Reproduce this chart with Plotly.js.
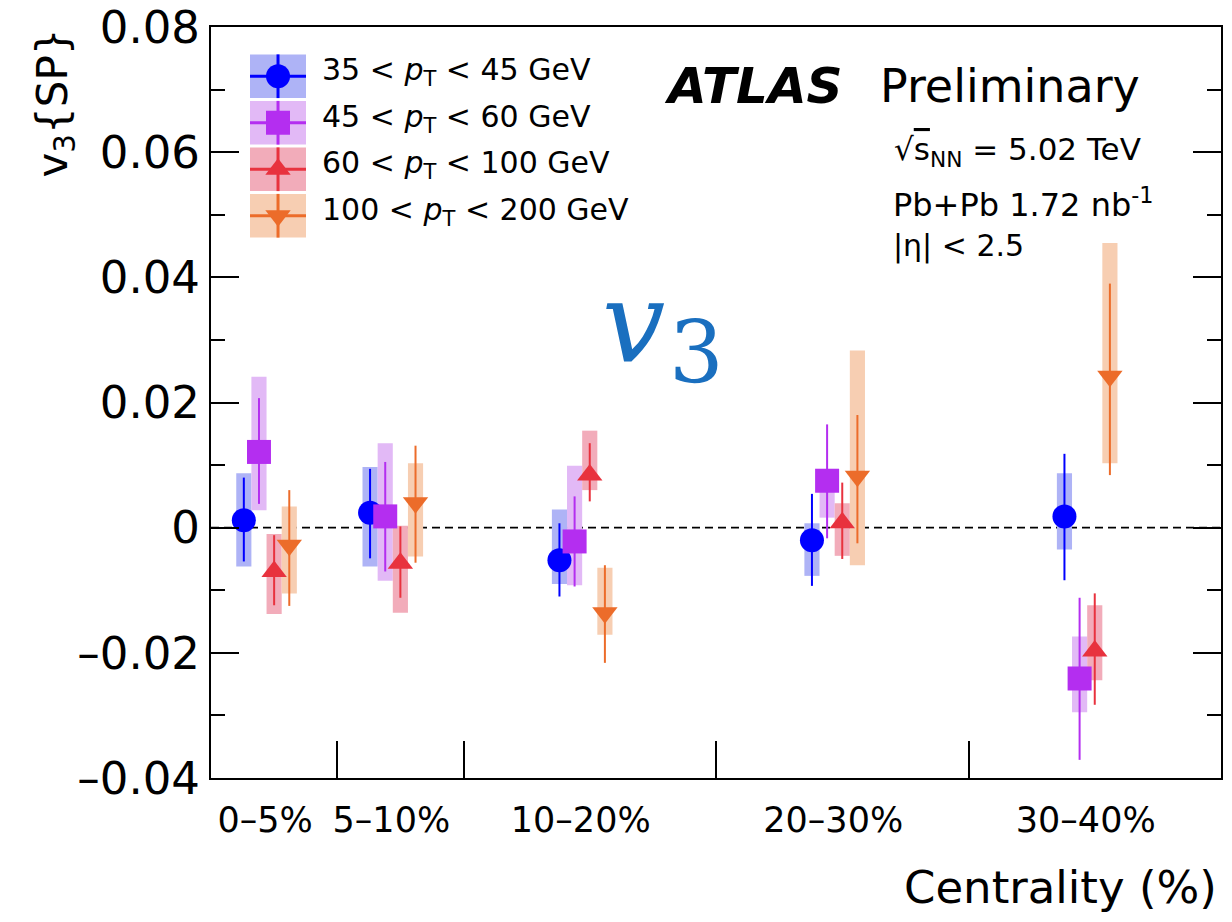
<!DOCTYPE html>
<html><head><meta charset="utf-8">
<script src="https://cdn.plot.ly/plotly-3.0.1.min.js"></script>
<style>html,body{margin:0;padding:0;background:#fff;}#chart{width:1232px;height:922px;}</style>
</head><body><div id="chart"></div>
<script>
// ---- categories / ticks ----
const binLabels = ['0–5%', '5–10%', '10–20%', '20–30%', '30–40%'];
const binCenters = [2.5, 7.5, 15, 25, 35];
const binEdges = [5, 10, 20, 30];
const yTickVals = [-0.04, -0.02, 0, 0.02, 0.04, 0.06, 0.08];
const yTickText = ['–0.04', '–0.02', '0', '0.02', '0.04', '0.06', '0.08'];
const seriesNames = ['35 &lt; <i>p</i><sub>T</sub> &lt; 45 GeV', '45 &lt; <i>p</i><sub>T</sub> &lt; 60 GeV',
                     '60 &lt; <i>p</i><sub>T</sub> &lt; 100 GeV', '100 &lt; <i>p</i><sub>T</sub> &lt; 200 GeV'];

// ---- series values (v3{SP}), statistical bar ends, systematic box ends ----
const pt35_val    = [0.0012, 0.0024, -0.0052, -0.0020, 0.0018];
const pt35_statHi = [0.0080, 0.0094, 0.0007, 0.0054, 0.0118];
const pt35_statLo = [-0.0054, -0.0049, -0.0110, -0.0093, -0.0084];
const pt35_sysHi  = [0.0087, 0.0097, 0.0029, 0.0007, 0.0087];
const pt35_sysLo  = [-0.0062, -0.0062, -0.0090, -0.0077, -0.0035];

const pt45_val    = [0.0121, 0.0018, -0.0022, 0.0075, -0.0241];
const pt45_statHi = [0.0207, 0.0105, 0.0050, 0.0165, -0.0112];
const pt45_statLo = [0.0038, -0.0070, -0.0094, -0.0017, -0.0371];
const pt45_sysHi  = [0.0241, 0.0135, 0.0099, 0.0090, -0.0174];
const pt45_sysLo  = [0.0028, -0.0085, -0.0092, 0.0016, -0.0295];

const pt60_val    = [-0.0070, -0.0057, 0.0084, 0.0008, -0.0197];
const pt60_statHi = [-0.0012, 0.0002, 0.0135, 0.0072, -0.0105];
const pt60_statLo = [-0.0124, -0.0112, 0.0042, -0.0050, -0.0283];
const pt60_sysHi  = [-0.0010, 0.0003, 0.0155, 0.0039, -0.0124];
const pt60_sysLo  = [-0.0138, -0.0136, 0.0060, -0.0045, -0.0244];

const pt100_val    = [-0.0028, 0.0040, -0.0136, 0.0082, 0.0242];
const pt100_statHi = [0.0060, 0.0131, -0.0060, 0.0180, 0.0390];
const pt100_statLo = [-0.0125, -0.0056, -0.0216, -0.0025, 0.0084];
const pt100_sysHi  = [0.0034, 0.0103, -0.0064, 0.0283, 0.0455];
const pt100_sysLo  = [-0.0105, -0.0046, -0.0171, -0.0060, 0.0103];

// ---- styles ----
const series = [
  {val: pt35_val, sh: pt35_statHi, sl: pt35_statLo, yh: pt35_sysHi, yl: pt35_sysLo},
  {val: pt45_val, sh: pt45_statHi, sl: pt45_statLo, yh: pt45_sysHi, yl: pt45_sysLo},
  {val: pt60_val, sh: pt60_statHi, sl: pt60_statLo, yh: pt60_sysHi, yl: pt60_sysLo},
  {val: pt100_val, sh: pt100_statHi, sl: pt100_statLo, yh: pt100_sysHi, yl: pt100_sysLo}
];
const offsets = [-1.2, -0.6, 0, 0.6];
const boxWidth = 0.6;
const markerColors = ['#0000ff', '#b42ef0', '#e8323e', '#ec6c2a'];
const boxColors = ['rgb(174,179,246)', 'rgb(226,185,246)', 'rgb(242,172,186)', 'rgb(247,206,178)'];
const symbols = ['circle', 'square', 'triangle-up', 'triangle-down'];
const sizes = [24, 24, 22, 22];

const traces = [];
series.forEach((s, i) => {
  const xs = binCenters.map(c => c + offsets[i]);
  traces.push({
    type: 'bar', x: xs, base: s.yl, y: s.yh.map((h, k) => h - s.yl[k]),
    width: boxWidth, marker: {color: boxColors[i], line: {width: 0}},
    hoverinfo: 'skip', showlegend: false, xaxis: 'x', yaxis: 'y'
  });
});
series.forEach((s, i) => {
  const xs = binCenters.map(c => c + offsets[i]);
  traces.push({
    type: 'scatter', mode: 'markers', x: xs, y: s.val,
    marker: {symbol: symbols[i], size: sizes[i], color: markerColors[i], line: {width: 0}},
    error_y: {type: 'data', symmetric: false,
      array: s.sh.map((h, k) => h - s.val[k]),
      arrayminus: s.val.map((v, k) => v - s.sl[k]),
      thickness: 2, width: 0, color: markerColors[i]},
    hoverinfo: 'skip', showlegend: false, xaxis: 'x', yaxis: 'y'
  });
});

// ---- hand-drawn legend on a hidden helper axis ----
const legendRowY = [0.9404, 0.8785, 0.8166, 0.7547];
const legendAnn = [];
series.forEach((s, i) => {
  const row = 3.5 - i;
  traces.push({
    type: 'bar', x: [0.5], base: [row - 0.47], y: [0.94], width: 1,
    marker: {color: boxColors[i], line: {width: 0}}, hoverinfo: 'skip', showlegend: false,
    xaxis: 'x2', yaxis: 'y2'
  });
  traces.push({
    type: 'scatter', mode: 'markers', x: [0.5], y: [row],
    marker: {symbol: symbols[i], size: sizes[i], color: markerColors[i], line: {width: 0}},
    error_x: {type: 'data', array: [0.5], thickness: 3, width: 0, color: markerColors[i]},
    error_y: {type: 'data', array: [0.47], thickness: 3, width: 0, color: markerColors[i]},
    hoverinfo: 'skip', showlegend: false, xaxis: 'x2', yaxis: 'y2', cliponaxis: false
  });
  legendAnn.push({
    xref: 'paper', yref: 'paper', x: 0.1075, y: legendRowY[i], xanchor: 'left', yanchor: 'middle',
    text: seriesNames[i], showarrow: false, font: {size: 30, color: '#000'}
  });
});

const annotations = legendAnn.concat([
  {xref: 'paper', yref: 'paper', x: 0, xshift: -156, y: 1, yanchor: 'top', xanchor: 'center',
   text: 'v<sub>3</sub>{SP}', textangle: -90, showarrow: false, font: {size: 42, color: '#000'}},
  {xref: 'paper', yref: 'paper', x: 1, xshift: -2, xanchor: 'right', y: 0, yshift: -109, yanchor: 'middle',
   text: 'Centrality (%)', showarrow: false, font: {size: 45, color: '#000'}},
  {xref: 'paper', yref: 'paper', x: 0.4465, y: 0.9208, xanchor: 'left', yanchor: 'middle',
   text: '<b><i>ATLAS</i></b>', showarrow: false, font: {size: 50, color: '#000'}},
  {xref: 'paper', yref: 'paper', x: 0.6604, y: 0.9208, xanchor: 'left', yanchor: 'middle',
   text: 'Preliminary', showarrow: false, font: {size: 46, color: '#000'}},
  {xref: 'paper', yref: 'paper', x: 0.6742, y: 0.8342, xanchor: 'left', yanchor: 'middle',
   text: '√<span style="text-decoration:overline">s</span><sub>NN</sub> = 5.02 TeV', showarrow: false,
   font: {size: 31, color: '#000'}},
  {xref: 'paper', yref: 'paper', x: 0.6732, y: 0.7657, xanchor: 'left', yanchor: 'middle',
   text: 'Pb+Pb 1.72 nb<sup>-1</sup>', showarrow: false, font: {size: 32, color: '#000'}},
  {xref: 'paper', yref: 'paper', x: 0.6732, y: 0.7084, xanchor: 'left', yanchor: 'middle',
   text: '|η| &lt; 2.5', showarrow: false, font: {size: 30, color: '#000'}},
  {xref: 'paper', yref: 'paper', x: 0.4188, y: 0.6059, xanchor: 'center', yanchor: 'middle',
   text: '<i>v</i>', showarrow: false, font: {family: 'DejaVu Serif', size: 112, color: '#1a6fbf'}},
  {xref: 'paper', yref: 'paper', x: 0.4802, y: 0.5672, xanchor: 'center', yanchor: 'middle',
   text: '3', showarrow: false, font: {family: 'DejaVu Serif', size: 86, color: '#1a6fbf'}}
]);

const layout = {
  width: 1232, height: 922,
  margin: {l: 211, r: 11, t: 27, b: 144, pad: 0},
  paper_bgcolor: '#fff', plot_bgcolor: '#fff',
  font: {family: 'DejaVu Sans', color: '#000'},
  showlegend: false, barmode: 'overlay', hovermode: false,
  xaxis: {
    range: [0, 40], domain: [0, 1], anchor: 'y',
    tickmode: 'array', tickvals: binCenters, ticktext: binLabels, ticks: '',
    tickfont: {size: 35}, ticklabelshift: -9, ticklabelstandoff: 10,
    showgrid: false, zeroline: false,
    showline: true, linecolor: '#000', linewidth: 2, mirror: true,
    minor: {tickmode: 'array', tickvals: binEdges, ticks: 'inside', ticklen: 37, tickwidth: 2, tickcolor: '#000', showgrid: false},
    fixedrange: true
  },
  yaxis: {
    range: [-0.04, 0.08], domain: [0, 1], anchor: 'x',
    tickmode: 'array', tickvals: yTickVals, ticktext: yTickText,
    ticks: 'inside', ticklen: 28, tickwidth: 2, tickcolor: '#000',
    tickfont: {size: 45}, showgrid: false, zeroline: false,
    showline: true, linecolor: '#000', linewidth: 2, mirror: 'ticks',
    minor: {tickmode: 'linear', tick0: 0, dtick: 0.01, ticks: 'inside', ticklen: 14, tickwidth: 2, tickcolor: '#000', showgrid: false},
    fixedrange: true
  },
  xaxis2: {domain: [0.0386, 0.0941], range: [0, 1], anchor: 'y2', visible: false, fixedrange: true},
  yaxis2: {domain: [0.7177, 0.9654], range: [0, 4], anchor: 'x2', visible: false, fixedrange: true},
  shapes: [
    {type: 'line', xref: 'paper', x0: 0, x1: 1, yref: 'y', y0: 0, y1: 0, layer: 'below',
     line: {color: '#000', width: 1.8, dash: '8px,5px'}}
  ],
  annotations: annotations
};

Plotly.newPlot('chart', traces, layout, {staticPlot: true, displayModeBar: false});
</script>
</body></html>
